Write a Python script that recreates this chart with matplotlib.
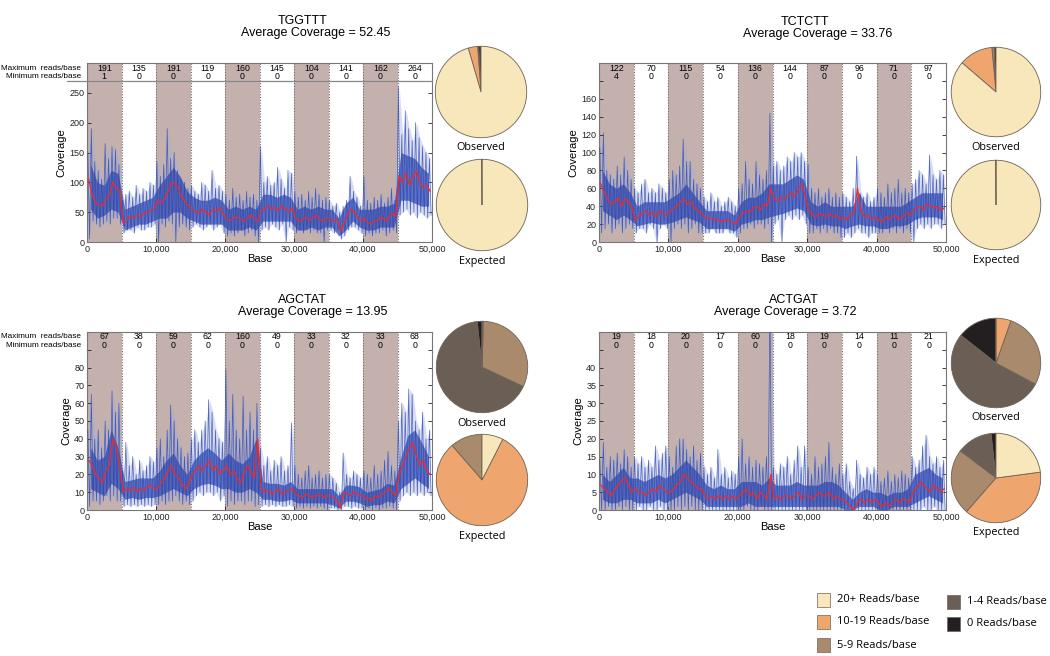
import numpy as np
import matplotlib.pyplot as plt
from matplotlib.patches import Rectangle

plt.rcParams['font.family'] = ['Liberation Sans', 'DejaVu Sans']

# pie slice order: 0, 1-4, 5-9, 10-19, 20+ reads/base
classes = ['0 Reads/base', '1-4 Reads/base', '5-9 Reads/base', '10-19 Reads/base', '20+ Reads/base']
class_colors = ['#231f20', '#6b5f55', '#a98a6d', '#eea66e', '#f7e7ba']

# ---- TGGTTT ----
tggttt_peak = [150, 190, 135, 120, 105, 165, 140, 160, 155, 130,
               70, 80, 85, 75, 95, 80, 90, 85, 100, 95,
               135, 110, 130, 190, 140, 150, 120, 105, 100, 90,
               95, 85, 80, 100, 95, 85, 120, 90, 95, 85,
               80, 70, 90, 75, 80, 70, 85, 75, 80, 70,
               160, 100, 110, 95, 100, 125, 105, 90, 120, 115,
               85, 75, 80, 70, 85, 75, 90, 80, 70, 75,
               70, 60, 65, 50, 60, 70, 110, 85, 75, 60,
               110, 70, 65, 75, 70, 80, 65, 75, 90, 70,
               260, 180, 220, 190, 170, 200, 175, 160, 150, 140]
tggttt_trough = [5, 35, 30, 25, 30, 35, 30, 40, 40, 30,
                 15, 20, 20, 15, 25, 20, 20, 25, 25, 30,
                 0, 30, 25, 35, 30, 0, 25, 30, 25, 20,
                 25, 30, 25, 20, 25, 30, 20, 25, 30, 15,
                 10, 15, 10, 15, 20, 10, 15, 20, 10, 0,
                 20, 25, 20, 30, 25, 20, 30, 0, 25, 20,
                 15, 20, 15, 20, 15, 20, 15, 15, 0, 20,
                 20, 15, 20, 5, 10, 20, 25, 25, 20, 15,
                 10, 15, 10, 15, 15, 20, 10, 15, 20, 15,
                 45, 50, 55, 45, 50, 40, 50, 45, 40, 45]
tggttt_core_hi = [130, 100, 95, 120, 115, 55, 60, 65, 70, 75,
                  95, 110, 125, 110, 85, 75, 70, 70, 75, 70,
                  55, 60, 55, 60, 55, 80, 80, 75, 80, 75,
                  55, 60, 55, 60, 55, 55, 40, 65, 75, 55,
                  55, 55, 60, 60, 65, 150, 145, 140, 125, 115]
tggttt_core_lo = [55, 40, 45, 55, 50, 20, 25, 30, 30, 35,
                  40, 40, 50, 50, 40, 35, 30, 30, 30, 30,
                  20, 20, 20, 25, 20, 35, 35, 35, 35, 35,
                  20, 20, 25, 20, 25, 25, 10, 20, 35, 25,
                  20, 20, 25, 25, 25, 70, 70, 65, 60, 60]
tggttt_smooth = [105, 80, 65, 62, 60, 72, 78, 100, 92, 85,
                 32, 35, 42, 40, 45, 42, 48, 50, 52, 55,
                 70, 65, 72, 85, 100, 98, 90, 75, 68, 60,
                 55, 52, 48, 55, 50, 45, 55, 50, 58, 48,
                 38, 36, 40, 42, 38, 35, 40, 45, 38, 35,
                 52, 55, 60, 55, 58, 52, 60, 55, 50, 58,
                 40, 35, 38, 42, 36, 40, 45, 38, 35, 40,
                 40, 35, 38, 18, 30, 45, 55, 50, 42, 35,
                 40, 32, 30, 35, 38, 42, 35, 40, 48, 42,
                 110, 100, 115, 95, 110, 120, 100, 90, 95, 85]
tggttt_max = [191, 135, 191, 119, 160, 145, 104, 141, 162, 264]
tggttt_min = [1, 0, 0, 0, 0, 0, 0, 0, 0, 0]
tggttt_obs = [0.8, 0.3, 0.1, 3.3, 95.5]
tggttt_exp = [0.0, 0.0, 0.0, 0.05, 99.95]

# ---- TCTCTT ----
tctctt_peak = [105, 122, 80, 75, 70, 85, 75, 95, 80, 70,
               60, 55, 65, 70, 55, 60, 55, 65, 60, 55,
               70, 80, 75, 85, 115, 90, 90, 70, 65, 60,
               50, 45, 55, 45, 50, 40, 45, 50, 45, 40,
               60, 65, 90, 70, 65, 90, 75, 70, 80, 144,
               85, 90, 80, 85, 95, 90, 100, 95, 100, 90,
               87, 60, 55, 60, 50, 55, 60, 50, 55, 50,
               55, 50, 45, 60, 96, 55, 50, 55, 45, 50,
               60, 55, 50, 65, 55, 60, 70, 55, 60, 55,
               65, 70, 80, 75, 65, 97, 75, 70, 80, 75]
tctctt_trough = [10, 15, 20, 10, 15, 20, 10, 15, 20, 15,
                 10, 15, 15, 10, 20, 15, 0, 15, 20, 15,
                 0, 15, 20, 15, 20, 10, 15, 20, 10, 10,
                 10, 10, 15, 10, 10, 10, 15, 10, 10, 5,
                 10, 15, 15, 20, 15, 20, 20, 15, 20, 0,
                 20, 25, 0, 25, 30, 25, 30, 25, 30, 20,
                 10, 10, 15, 10, 15, 10, 15, 10, 10, 5,
                 5, 10, 5, 10, 15, 10, 10, 5, 10, 10,
                 10, 10, 15, 10, 15, 10, 15, 10, 15, 10,
                 0, 15, 20, 15, 20, 15, 20, 20, 15, 20]
tctctt_core_hi = [80, 65, 60, 65, 55, 40, 45, 45, 45, 45,
                  50, 55, 65, 55, 45, 35, 35, 35, 35, 30,
                  45, 50, 50, 55, 65, 65, 65, 70, 75, 70,
                  45, 40, 45, 40, 40, 40, 40, 55, 40, 40,
                  40, 40, 40, 40, 45, 50, 55, 55, 55, 55]
tctctt_core_lo = [35, 30, 25, 30, 25, 18, 20, 22, 20, 20,
                  22, 25, 28, 25, 22, 15, 15, 15, 15, 12,
                  20, 22, 25, 25, 28, 30, 32, 35, 38, 35,
                  20, 18, 20, 18, 18, 15, 18, 20, 18, 18,
                  15, 15, 18, 18, 20, 25, 28, 28, 28, 25]
tctctt_smooth = [65, 55, 48, 42, 45, 50, 40, 48, 45, 38,
                 25, 28, 32, 35, 30, 33, 28, 35, 32, 30,
                 35, 38, 40, 45, 48, 42, 45, 38, 35, 32,
                 28, 25, 27, 24, 25, 22, 25, 24, 22, 20,
                 28, 32, 35, 33, 38, 40, 36, 42, 40, 60,
                 48, 45, 50, 48, 52, 55, 50, 60, 65, 50,
                 35, 30, 28, 32, 30, 28, 32, 28, 30, 25,
                 28, 25, 30, 32, 60, 35, 28, 30, 25, 28,
                 25, 22, 28, 25, 28, 30, 25, 28, 32, 30,
                 35, 38, 40, 36, 42, 40, 38, 40, 35, 38]
tctctt_max = [122, 70, 115, 54, 136, 144, 87, 96, 71, 97]
tctctt_min = [4, 0, 0, 0, 0, 0, 0, 0, 0, 0]
tctctt_obs = [0.7, 0.0, 0.8, 12.2, 86.3]
tctctt_exp = [0.0, 0.0, 0.0, 0.05, 99.95]

# ---- AGCTAT ----
agctat_peak = [45, 65, 40, 45, 35, 50, 45, 67, 55, 60,
               22, 38, 25, 30, 20, 28, 22, 25, 30, 27,
               35, 40, 30, 45, 59, 50, 40, 35, 30, 32,
               40, 45, 38, 45, 50, 62, 55, 45, 40, 38,
               79, 50, 65, 45, 40, 64, 45, 55, 45, 60,
               35, 25, 30, 22, 28, 25, 30, 22, 25, 49,
               25, 20, 18, 22, 25, 18, 20, 22, 18, 20,
               20, 18, 15, 10, 32, 20, 18, 22, 20, 18,
               22, 20, 18, 25, 20, 22, 28, 33, 25, 22,
               50, 60, 55, 68, 65, 50, 45, 55, 40, 45]
agctat_trough = [2, 5, 5, 3, 5, 8, 5, 8, 5, 5,
                 2, 3, 2, 3, 2, 3, 2, 3, 2, 3,
                 3, 5, 3, 5, 5, 8, 5, 3, 5, 3,
                 5, 8, 10, 8, 10, 10, 8, 10, 5, 8,
                 2, 5, 3, 5, 5, 3, 5, 5, 2, 3,
                 2, 3, 2, 3, 2, 3, 2, 2, 3, 2,
                 1, 2, 1, 2, 1, 2, 1, 2, 1, 0,
                 1, 1, 0, 0, 2, 2, 1, 2, 1, 1,
                 0, 1, 0, 1, 0, 1, 1, 2, 1, 0,
                 5, 8, 10, 8, 10, 8, 10, 8, 10, 8]
agctat_core_hi = [35, 28, 30, 45, 35, 16, 17, 18, 18, 18,
                  22, 28, 32, 25, 20, 28, 32, 35, 32, 28,
                  32, 28, 26, 30, 40, 16, 15, 15, 14, 16,
                  12, 12, 12, 12, 12, 12, 8, 14, 14, 13,
                  10, 11, 12, 15, 14, 30, 42, 45, 38, 30]
agctat_core_lo = [12, 10, 8, 15, 12, 6, 7, 6, 7, 7,
                  8, 10, 12, 10, 8, 12, 14, 15, 14, 12,
                  12, 10, 10, 12, 10, 6, 6, 5, 5, 6,
                  4, 4, 4, 4, 4, 3, 1, 5, 5, 4,
                  2, 3, 3, 5, 4, 12, 15, 18, 15, 12]
agctat_smooth = [28, 25, 20, 18, 15, 22, 25, 40, 35, 25,
                 10, 12, 11, 13, 10, 12, 11, 13, 14, 12,
                 12, 15, 18, 22, 25, 20, 18, 15, 12, 14,
                 20, 22, 25, 22, 25, 28, 22, 25, 20, 22,
                 25, 20, 22, 18, 15, 20, 25, 22, 18, 40,
                 12, 10, 11, 9, 10, 12, 9, 10, 11, 12,
                 9, 8, 7, 9, 8, 7, 8, 9, 7, 8,
                 8, 7, 5, 1, 10, 9, 8, 10, 9, 8,
                 6, 7, 5, 8, 7, 9, 10, 12, 10, 8,
                 20, 25, 30, 35, 38, 30, 25, 28, 22, 20]
agctat_max = [67, 38, 59, 62, 160, 49, 33, 32, 33, 68]
agctat_min = [0, 0, 0, 0, 0, 0, 0, 0, 0, 0]
agctat_obs = [1.7, 66.3, 31.5, 0.3, 0.2]
agctat_exp = [0.0, 0.0, 11.4, 81.1, 7.5]

# ---- ACTGAT ----
actgat_peak = [14, 19, 12, 15, 14, 16, 13, 17, 15, 12,
               15, 13, 15, 12, 14, 12, 18, 14, 16, 18,
               15, 12, 18, 20, 20, 17, 15, 18, 14, 16,
               12, 10, 12, 9, 17, 10, 12, 9, 11, 10,
               15, 20, 13, 15, 12, 14, 13, 12, 15, 60,
               12, 10, 13, 12, 15, 10, 14, 18, 12, 18,
               12, 10, 15, 12, 13, 15, 19, 12, 10, 13,
               10, 13, 8, 6, 14, 10, 9, 12, 10, 12,
               10, 8, 9, 11, 8, 10, 9, 11, 10, 9,
               15, 12, 14, 18, 21, 15, 13, 15, 12, 14]
actgat_trough = [0, 0, 1, 0, 0, 1, 0, 1, 0, 0,
                 0, 1, 0, 0, 1, 0, 0, 1, 0, 0,
                 0, 0, 1, 0, 1, 0, 1, 0, 0, 0,
                 0, 0, 0, 0, 0, 0, 0, 0, 0, 0,
                 0, 0, 1, 0, 0, 0, 1, 0, 0, 0,
                 0, 0, 0, 0, 0, 0, 0, 0, 0, 0,
                 0, 0, 0, 0, 0, 0, 0, 0, 0, 0,
                 0, 0, 0, 0, 0, 0, 0, 0, 0, 0,
                 0, 0, 0, 0, 0, 0, 0, 0, 0, 0,
                 0, 0, 0, 1, 0, 0, 1, 0, 0, 0]
actgat_core_hi = [10, 8, 10, 12, 9, 9, 8, 9, 10, 9,
                  10, 12, 14, 12, 10, 7, 6, 7, 6, 6,
                  8, 8, 8, 7, 9, 7, 7, 7, 8, 7,
                  7, 7, 8, 8, 7, 5, 3, 5, 6, 5,
                  5, 4, 5, 5, 6, 10, 11, 12, 10, 9]
actgat_core_lo = [3, 2, 2, 3, 3, 2, 2, 2, 3, 2,
                  3, 4, 5, 4, 3, 1, 1, 1, 1, 1,
                  1, 2, 1, 1, 1, 1, 1, 1, 1, 1,
                  1, 1, 1, 1, 1, 0, 0, 1, 1, 1,
                  0, 0, 1, 1, 1, 2, 3, 4, 3, 2]
actgat_smooth = [7, 6, 5, 4, 6, 7, 8, 9, 7, 5,
                 6, 5, 5, 4, 5, 6, 5, 7, 6, 5,
                 5, 6, 7, 8, 10, 9, 8, 7, 6, 6,
                 4, 3, 4, 3, 4, 3, 4, 3, 4, 3,
                 4, 5, 6, 4, 5, 3, 5, 4, 3, 10,
                 3, 4, 3, 4, 4, 3, 4, 5, 3, 4,
                 4, 3, 4, 5, 4, 4, 5, 3, 4, 3,
                 3, 2, 1, 0, 2, 3, 2, 3, 2, 3,
                 2, 1, 2, 1, 2, 3, 2, 3, 3, 2,
                 5, 6, 8, 7, 6, 5, 7, 6, 5, 6]
actgat_max = [19, 18, 20, 17, 60, 18, 19, 14, 11, 21]
actgat_min = [0, 0, 0, 0, 0, 0, 0, 0, 0, 0]
actgat_obs = [14.4, 52.8, 27.4, 5.4, 0.0]
actgat_exp = [1.8, 12.9, 23.9, 38.5, 22.9]

W, H = 1050, 656
fig = plt.figure(figsize=(W / 100, H / 100), dpi=100)


def px(x, y, w, h):
    return [x / W, 1 - (y + h) / H, w / W, h / H]


shade = '#c4b1ae'


def coverage(x0, y0, w, h, peak, trough, core_hi, core_lo, smooth, top, step, nlab,
             mx, mn, left_labels, hline):
    ax = fig.add_axes(px(x0, y0, w, h))
    for i in range(10):
        if i % 2 == 0:
            ax.axvspan(i * 5000, (i + 1) * 5000, color=shade, lw=0, zorder=0)
    for i in range(0, 10):
        ax.axvline(i * 5000, color='#6d6d6d', ls=(0, (1, 1.5)), lw=0.8, zorder=1)
    bins = np.arange(100) * 500
    ax.fill_between(bins + 250, trough, peak, color='#9eaae0', alpha=0.4, lw=0, zorder=2)
    cbins = np.arange(50) * 1000 + 500
    ax.fill_between(cbins, core_lo, core_hi, color='#3049b3', alpha=0.72, lw=0, zorder=3)
    xs = np.column_stack([bins + 125, bins + 375]).ravel()
    ys = np.column_stack([peak, trough]).ravel()
    ax.plot(xs, ys, color='#2a45b0', lw=0.5, alpha=0.8, zorder=3)
    ax.plot(bins + 250, smooth, color='#ec2b2e', lw=0.9, zorder=4)
    ax.set_xlim(0, 50000)
    ax.set_ylim(0, top)
    ax.set_xticks(range(0, 50001, 10000))
    ax.set_xticklabels(['0', '10,000', '20,000', '30,000', '40,000', '50,000'])
    yt = np.arange(0, top, step)
    ax.set_yticks(yt)
    ax.set_yticklabels([str(v) if k <= nlab else '' for k, v in enumerate(yt)])
    ax.tick_params(direction='in', length=3, width=0.6, labelsize=6.5, colors='#222222',
                   right=True, pad=2)
    for s in ax.spines.values():
        s.set_color('#777777')
        s.set_linewidth(0.8)
    ax.set_xlabel('Base', fontsize=8, labelpad=0)
    ax.set_ylabel('Coverage', fontsize=8, labelpad=2)
    for i in range(10):
        ax.text(i * 5000 + 2500, 0.972, str(mx[i]), transform=ax.get_xaxis_transform(),
                ha='center', va='center', fontsize=6.3)
        ax.text(i * 5000 + 2500, 0.922, str(mn[i]), transform=ax.get_xaxis_transform(),
                ha='center', va='center', fontsize=6.3)
    if left_labels:
        ax.text(-0.017, 0.972, 'Maximum  reads/base', transform=ax.transAxes,
                ha='right', va='center', fontsize=5.9)
        ax.text(-0.017, 0.922, 'Minimum reads/base', transform=ax.transAxes,
                ha='right', va='center', fontsize=5.9)
    if hline:
        ax.plot([-0.058, 1], [0.9, 0.9], transform=ax.transAxes, color='#888888',
                lw=0.9, clip_on=False, zorder=5)
    return ax


def pie(cx, cy, r, vals, label):
    ax = fig.add_axes(px(cx - r - 2, cy - r - 2, 2 * r + 4, 2 * r + 4))
    ax.pie(vals, colors=class_colors, startangle=90, counterclock=True,
           wedgeprops=dict(edgecolor='#6f6255', linewidth=0.6))
    ax.set_xlim(-1.05, 1.05)
    ax.set_ylim(-1.05, 1.05)
    ax.set_aspect('equal')
    ax.axis('off')
    fig.text(cx / W, 1 - (cy + r + 10) / H, label, ha='center', va='center',
             fontsize=7.8, family=['Open Sans', 'DejaVu Sans'])


def title(x1, x2, y, name, avg):
    fig.text(x1 / W, 1 - y / H, name, ha='center', va='center', fontsize=9)
    fig.text(x2 / W, 1 - (y + 12) / H, 'Average Coverage = ' + avg, ha='center',
             va='center', fontsize=9)


coverage(87, 63, 345, 179, tggttt_peak, tggttt_trough, tggttt_core_hi, tggttt_core_lo,
         tggttt_smooth, 300, 50, 5, tggttt_max, tggttt_min, True, True)
coverage(599, 63, 347, 179, tctctt_peak, tctctt_trough, tctctt_core_hi, tctctt_core_lo,
         tctctt_smooth, 200, 20, 8, tctctt_max, tctctt_min, False, False)
coverage(87, 332, 345, 178, agctat_peak, agctat_trough, agctat_core_hi, agctat_core_lo,
         agctat_smooth, 100, 10, 8, agctat_max, agctat_min, True, False)
coverage(599, 332, 347, 178, actgat_peak, actgat_trough, actgat_core_hi, actgat_core_lo,
         actgat_smooth, 50, 5, 8, actgat_max, actgat_min, False, False)

title(303, 316, 21, 'TGGTTT', '52.45')
title(805, 818, 22, 'TCTCTT', '33.76')
title(302, 313, 300, 'AGCTAT', '13.95')
title(794, 785, 300, 'ACTGAT', '3.72')

pie(481, 92, 46, tggttt_obs, 'Observed')
pie(482, 205, 46, tggttt_exp, 'Expected')
pie(996, 92, 45, tctctt_obs, 'Observed')
pie(996, 205, 45, tctctt_exp, 'Expected')
pie(482, 367, 46, agctat_obs, 'Observed')
pie(482, 480, 46, agctat_exp, 'Expected')
pie(996, 363, 45, actgat_obs, 'Observed')
pie(996, 478, 45, actgat_exp, 'Expected')

# legend
legend_pos = [(817, 593), (817, 615), (817, 638), (947, 595), (947, 617)]
legend_order = [4, 3, 2, 1, 0]
for (lx, ly), k in zip(legend_pos, legend_order):
    fig.patches.append(Rectangle((lx / W, 1 - (ly + 14) / H), 13 / W, 14 / H,
                                 transform=fig.transFigure, facecolor=class_colors[k],
                                 edgecolor='#6f6255', linewidth=0.5))
    fig.text((lx + 20) / W, 1 - (ly + 7) / H, classes[k], ha='left', va='center',
             fontsize=8, family=['Open Sans', 'DejaVu Sans'])

fig.savefig('out.png', dpi=100)
